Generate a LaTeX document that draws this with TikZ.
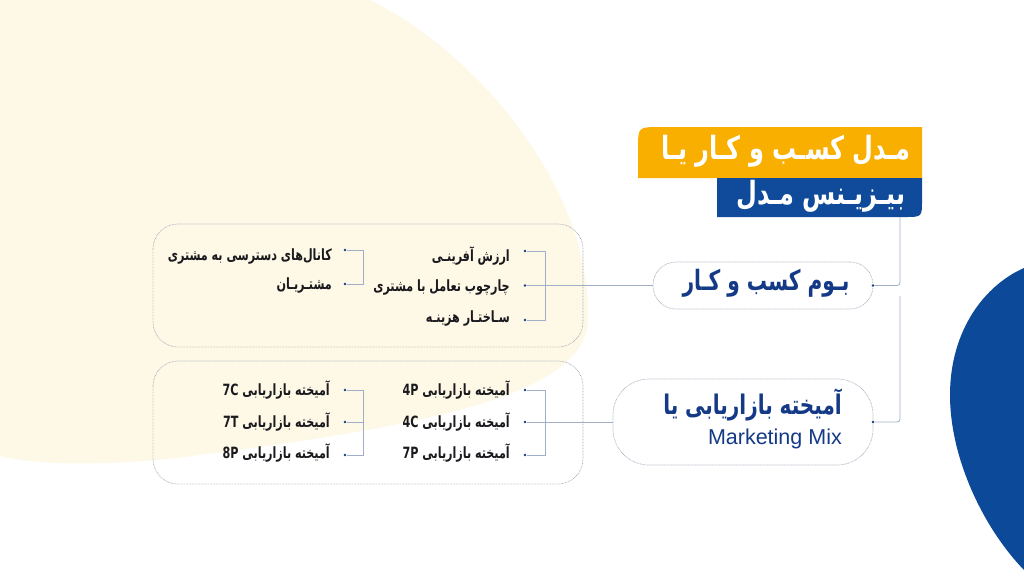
\documentclass[tikz,border=0pt]{standalone}
\usepackage{fontspec}
\TeXXeTstate=1
\newfontfamily\fa[Script=Arabic]{DejaVu Sans}
\newfontfamily\la{Liberation Sans}
\newcommand\fasq[2]{\scalebox{#1}[1]{#2}}
\definecolor{cream}{RGB}{254,248,231}
\definecolor{bannerorange}{RGB}{248,175,0}
\definecolor{bannerblue}{RGB}{16,75,155}
\definecolor{blobblue}{RGB}{12,74,153}
\definecolor{linecol}{RGB}{160,174,200}
\definecolor{dotcol}{RGB}{22,60,130}
\definecolor{bordercol}{RGB}{165,172,186}
\definecolor{pilltext}{RGB}{20,58,135}
\definecolor{itemtext}{RGB}{25,25,30}
\begin{document}
\begin{tikzpicture}[x=1pt,y=-1pt,
  conn/.style={draw=linecol,line width=0.8pt},
  frame/.style={draw=bordercol,line width=0.7pt,dash pattern=on 0.7pt off 0.8pt},
  pill/.style={frame,fill=white,inner sep=0pt},
  itemtxt/.style={anchor=east,inner sep=0pt,text=itemtext,font=\fa\bfseries\fontsize{15.5}{17}\selectfont},
  pilltxt/.style={text=pilltext,inner sep=0pt,align=right},
  bdot/.style={circle,fill=dotcol,inner sep=0pt,minimum size=2.6pt},
  titletxt/.style={text=white,inner sep=0pt,font=\fa\bfseries\fontsize{32}{36}\selectfont}]
\useasboundingbox (0,0) rectangle (1024,579);
\fill[white] (0,0) rectangle (1024,579);
% background blobs
\fill[cream] (370,0) .. controls (480,55) and (592,190) .. (588,320)
  .. controls (585,395) and (430,425) .. (200,455)
  .. controls (120,466) and (40,466) .. (0,456) -- (0,0) -- cycle;
\fill[blobblue] (1024,268) .. controls (985,285) and (950,330) .. (950,395)
  .. controls (950,460) and (985,530) .. (1024,570) -- cycle;
% title banners
\fill[bannerorange] (638,178) -- (638,149) .. controls (638,127) .. (660,127) -- (922,127) -- (922,178) -- cycle;
\fill[bannerblue] (717,178) -- (922,178) -- (922,200) .. controls (922,217) .. (905,217) -- (717,217) -- cycle;
\node[titletxt] (title1) at (786,151) {\fasq{0.75}{\beginR مـدل کسـب و کـار یـا\endR}};
\node[titletxt] (title2) at (821,196) {\fasq{0.75}{\beginR بیـزیـنس مـدل\endR}};
\coordinate (tb) at (900,217);
% boxes
\draw[frame,rounded corners=25pt] (153,224) rectangle (583,347);
\draw[frame,rounded corners=25pt] (153,361) rectangle (583,484);
% pills
\node[pill,rounded corners=23pt,minimum width=220pt,minimum height=47pt] (p1) at (763,285.5) {};
\node[pilltxt,font=\fa\bfseries\fontsize{28}{30}\selectfont] (p1t) at (766,283) {\fasq{0.72}{\beginR بـوم کسب و کـار\endR}};
\node[pill,rounded corners=36pt,minimum width=260pt,minimum height=86pt] (p2) at (743,422) {};
\node[pilltxt,anchor=east,font=\fa\bfseries\fontsize{27}{30}\selectfont] (p2t) at (842,405) {\fasq{0.74}{\beginR آمیخته بازاریابی یا\endR}};
\node[pilltxt,anchor=east,font=\la\fontsize{21.5}{24}\selectfont] (p2m) at (842,439) {Marketing Mix};
% dots on pills
\node[bdot] (d1) at (873,285.5) {};
\node[bdot] (d2) at (873,422) {};
\coordinate (mid) at (900,296);
\draw[conn,rounded corners=3pt] (tb) -- (tb |- d1) -- (d1);
\draw[conn,rounded corners=3pt] (mid) -- (mid |- d2) -- (d2);
% top box, right group
\node[bdot] (a1) at (525,251) {};
\node[bdot] (a2) at (525,285.5) {};
\node[bdot] (a3) at (525,320) {};
\coordinate (ab) at (545,251);
\draw[conn] (a1) -- (ab) -- (ab |- a3) -- (a3);
\draw[conn] (p1.west) -- (a2);
\node[itemtxt] (ta1) at (510,256) {\fasq{0.72}{\beginR ارزش آفرینـی\endR}};
\node[itemtxt] (ta2) at (510,287) {\fasq{0.72}{\beginR چارچوب تعامل با مشتری\endR}};
\node[itemtxt] (ta3) at (510,318) {\fasq{0.72}{\beginR سـاختـار هزینـه\endR}};
% top box, left group
\node[bdot] (b1) at (345,250) {};
\node[bdot] (b2) at (345,284) {};
\coordinate (bb) at (363,250);
\draw[conn] (b1) -- (bb) -- (bb |- b2) -- (b2);
\node[itemtxt] (tb1) at (332,256) {\fasq{0.72}{\beginR کانال‌های دسترسی به مشتری\endR}};
\node[itemtxt] (tb2) at (332,285) {\fasq{0.72}{\beginR مشتـریـان\endR}};
% bottom box, right group
\node[bdot] (c1) at (525,390) {};
\node[bdot] (c2) at (525,422) {};
\node[bdot] (c3) at (525,455) {};
\coordinate (cb) at (545,390);
\draw[conn] (c1) -- (cb) -- (cb |- c3) -- (c3);
\draw[conn] (p2.west) -- (c2);
\node[itemtxt] (tc1) at (510,390) {\fasq{0.72}{\beginR آمیخته بازاریابی \beginL 4P\endL\endR}};
\node[itemtxt] (tc2) at (510,422) {\fasq{0.72}{\beginR آمیخته بازاریابی \beginL 4C\endL\endR}};
\node[itemtxt] (tc3) at (510,453) {\fasq{0.72}{\beginR آمیخته بازاریابی \beginL 7P\endL\endR}};
% bottom box, left group
\node[bdot] (e1) at (345,390) {};
\node[bdot] (e2) at (345,422) {};
\node[bdot] (e3) at (345,455) {};
\coordinate (eb) at (363,390);
\draw[conn] (e1) -- (eb) -- (eb |- e3) -- (e3);
\draw[conn] (e2) -- (eb |- e2);
\node[itemtxt] (te1) at (330,390) {\fasq{0.72}{\beginR آمیخته بازاریابی \beginL 7C\endL\endR}};
\node[itemtxt] (te2) at (330,422) {\fasq{0.72}{\beginR آمیخته بازاریابی \beginL 7T\endL\endR}};
\node[itemtxt] (te3) at (330,453) {\fasq{0.72}{\beginR آمیخته بازاریابی \beginL 8P\endL\endR}};
\end{tikzpicture}
\end{document}
